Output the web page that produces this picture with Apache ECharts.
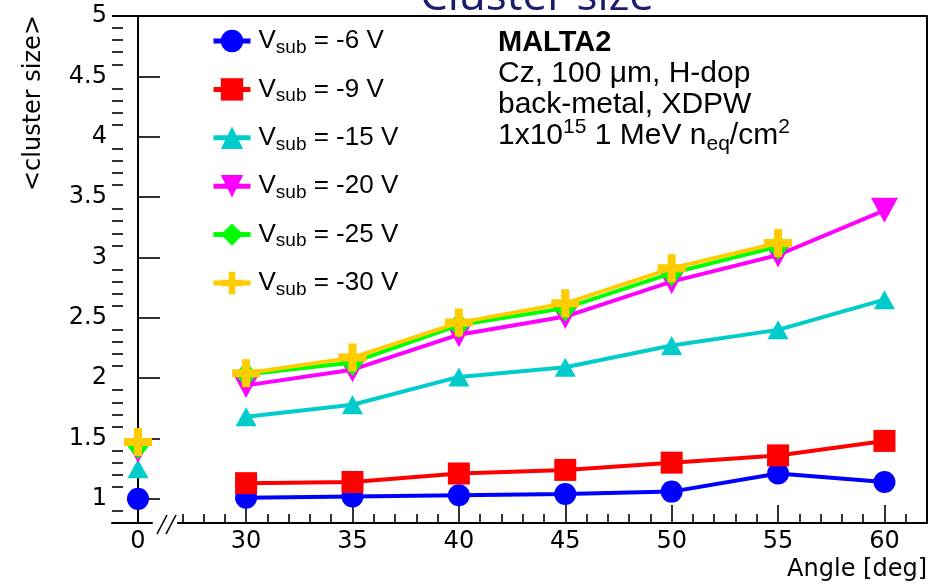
<!DOCTYPE html>
<html>
<head>
<meta charset="utf-8">
<script src="https://cdn.jsdelivr.net/npm/echarts@6/dist/echarts.min.js"></script>
<style>
  html, body { margin: 0; padding: 0; background: #ffffff; }
  #chart { width: 936px; height: 586px; }
</style>
</head>
<body>
<div id="chart"></div>
<script>
// Incidence angles (deg) of the tilted scans
const angles = [30, 35, 40, 45, 50, 55, 60];

// Substrate voltages
const voltages = ['-6', '-9', '-15', '-20', '-25', '-30'];

// Mean cluster size per angle, one array per substrate voltage
const size6  = [1.01, 1.02, 1.03, 1.04, 1.06, 1.21, 1.14];
const size9  = [1.13, 1.14, 1.21, 1.24, 1.30, 1.36, 1.48];
const size15 = [1.68, 1.78, 2.01, 2.09, 2.27, 2.40, 2.65];
const size20 = [1.94, 2.07, 2.36, 2.51, 2.80, 3.02, 3.39];
const size25 = [2.03, 2.13, 2.44, 2.58, 2.87, 3.09, null];
const size30 = [2.04, 2.17, 2.46, 2.62, 2.91, 3.12, null];

// Mean cluster size at normal incidence (0 deg); null = not measured
const sizeAtZero = [1.00, null, 1.25, 1.40, 1.44, 1.47];

// Axis tick labels
const yTickLabels = [1, 1.5, 2, 2.5, 3, 3.5, 4, 4.5, 5];
const xTickLabels = [30, 35, 40, 45, 50, 55, 60];

const sizes = [size6, size9, size15, size20, size25, size30];
const colors = ['#0000ff', '#ff0000', '#00cccc', '#ff00ff', '#00ff00', '#ffcc00'];
const symbols = [
  'circle',
  'rect',
  'triangle',
  'path://M0,0 L20,0 L10,18 Z',
  'diamond',
  'path://M10,0 L18,0 L18,10 L28,10 L28,18 L18,18 L18,28 L10,28 L10,18 L0,18 L0,10 L10,10 Z'
];
const symbolSizes = [22, 22, [21, 19], [27, 25], [22, 27], 28];

// minor tick positions (every 0.1 on y, every 1 deg on x)
const yMinor = [];
for (let k = 9; k <= 49; k++) { if (k % 5 !== 0) yMinor.push(k / 10); }
const xMinor = [];
for (let k = 27; k <= 62; k++) { if (k % 5 !== 0) xMinor.push(k); }

const AXIS_FONT = 'DejaVu Sans';
const TEXT_FONT = 'Liberation Sans';
const axisLine = { show: true, lineStyle: { color: '#000', width: 2 } };
const tickStyle = { color: '#000', width: 1.6 };

const names = voltages.map(v => 'Vsub = ' + v + ' V');

const series = [];
voltages.forEach((v, i) => {
  const common = {
    type: 'line',
    name: names[i],
    symbol: symbols[i],
    symbolSize: symbolSizes[i],
    showAllSymbol: true,
    lineStyle: { color: colors[i], width: 4 },
    itemStyle: { color: colors[i], borderWidth: 0 },
    emphasis: { disabled: true },
    animation: false,
    z: 2 + i
  };
  const pts = [];
  angles.forEach((a, j) => { if (sizes[i][j] != null) pts.push([a, sizes[i][j]]); });
  series.push(Object.assign({}, common, { xAxisIndex: 1, yAxisIndex: 2, data: pts }));
  if (sizeAtZero[i] != null) {
    series.push(Object.assign({}, common, { xAxisIndex: 0, yAxisIndex: 0, data: [[0, sizeAtZero[i]]] }));
  }
});

const chart = echarts.init(document.getElementById('chart'), null, { renderer: 'canvas' });

chart.setOption({
  backgroundColor: '#ffffff',
  animation: false,
  grid: [
    { left: 112, top: 16, width: 40, bottom: 63, containLabel: false },
    { left: 178, top: 16, right: 9, bottom: 63, containLabel: false }
  ],
  xAxis: [
    {
      gridIndex: 0, type: 'value', min: -26, max: 14, position: 'bottom',
      axisLine: axisLine,
      axisTick: { show: true, inside: true, length: 18, customValues: [0], lineStyle: tickStyle },
      axisLabel: { customValues: [0], margin: 7, color: '#000', fontFamily: AXIS_FONT, fontSize: 24 },
      splitLine: { show: false }
    },
    {
      gridIndex: 1, type: 'value', min: 26.8, max: 62, position: 'bottom',
      axisLine: axisLine,
      axisTick: { show: true, inside: true, length: 18, customValues: xTickLabels, lineStyle: tickStyle },
      axisLabel: { customValues: xTickLabels, margin: 7, color: '#000', fontFamily: AXIS_FONT, fontSize: 24 },
      splitLine: { show: false }
    },
    {
      gridIndex: 1, type: 'value', min: 26.8, max: 62, position: 'bottom', offset: 0,
      axisLine: { show: false },
      axisTick: { show: true, inside: true, length: 9, customValues: xMinor, lineStyle: tickStyle },
      axisLabel: { show: false },
      splitLine: { show: false }
    }
  ],
  yAxis: [
    {
      gridIndex: 0, type: 'value', min: 0.8, max: 5, position: 'left',
      axisLine: axisLine,
      axisTick: { show: true, inside: true, length: 22, customValues: yTickLabels, lineStyle: tickStyle },
      axisLabel: { customValues: yTickLabels, margin: 5, color: '#000', fontFamily: AXIS_FONT, fontSize: 24 },
      splitLine: { show: false }
    },
    {
      gridIndex: 0, type: 'value', min: 0.8, max: 5, position: 'left', offset: 0,
      axisLine: { show: false },
      axisTick: { show: true, inside: true, length: 11, customValues: yMinor, lineStyle: tickStyle },
      axisLabel: { show: false },
      splitLine: { show: false }
    },
    {
      gridIndex: 1, type: 'value', min: 0.8, max: 5, position: 'right',
      axisLine: axisLine,
      axisTick: { show: false },
      axisLabel: { show: false },
      splitLine: { show: false }
    }
  ],
  legend: {
    orient: 'vertical',
    left: 211,
    top: 28,
    padding: 0,
    itemWidth: 37,
    itemHeight: 28,
    itemGap: 19.4,
    selectedMode: false,
    data: names,
    lineStyle: { width: 5 },
    formatter: function (name) {
      const v = voltages[names.indexOf(name)];
      return '{v|V}{s|sub}{t| = ' + v + ' V}';
    },
    textStyle: {
      color: '#000',
      padding: [0, 0, 0, 3],
      rich: {
        v: { fontFamily: TEXT_FONT, fontSize: 26, lineHeight: 32, color: '#000' },
        s: { fontFamily: TEXT_FONT, fontSize: 19, lineHeight: 10, verticalAlign: 'bottom', color: '#000' },
        t: { fontFamily: TEXT_FONT, fontSize: 26, lineHeight: 32, color: '#000' }
      }
    }
  },
  graphic: [
    // frame: top edge
    { type: 'line', shape: { x1: 112, y1: 16, x2: 927, y2: 16 }, style: { stroke: '#000', lineWidth: 2 }, silent: true },
    // axis break marks
    { type: 'line', shape: { x1: 157, y1: 534, x2: 167, y2: 515 }, style: { stroke: '#000', lineWidth: 1.6 }, silent: true },
    { type: 'line', shape: { x1: 166, y1: 534, x2: 176, y2: 515 }, style: { stroke: '#000', lineWidth: 1.6 }, silent: true },
    // page title
    { type: 'text', x: 537, y: -3, silent: true,
      style: { text: 'Cluster size', fill: '#1b1b70', font: '44px "Open Sans"', align: 'center', verticalAlign: 'middle' } },
    // axis titles
    { type: 'text', x: 927, y: 570, silent: true,
      style: { text: 'Angle [deg]', fill: '#000', font: '24px "DejaVu Sans"', align: 'right', verticalAlign: 'middle' } },
    { type: 'text', x: 34, y: 15, rotation: Math.PI / 2, silent: true,
      style: { text: '<cluster size>', fill: '#000', font: '24px "DejaVu Sans"', align: 'right', verticalAlign: 'middle' } },
    // sample description
    { type: 'text', x: 498, y: 43, silent: true,
      style: { text: 'MALTA2', fill: '#000', font: 'bold 29px "Liberation Sans"', align: 'left', verticalAlign: 'middle' } },
    { type: 'text', x: 498, y: 74, silent: true,
      style: { text: 'Cz, 100 \u03bcm, H-dop', fill: '#000', font: '30px "Liberation Sans"', align: 'left', verticalAlign: 'middle' } },
    { type: 'text', x: 498, y: 104.5, silent: true,
      style: { text: 'back-metal, XDPW', fill: '#000', font: '30px "Liberation Sans"', align: 'left', verticalAlign: 'middle' } },
    { type: 'text', x: 498, y: 136, silent: true,
      style: {
        text: '{a|1x10}{sup|15}{a| 1 MeV n}{sub|eq}{a|/cm}{sup|2}',
        align: 'left', verticalAlign: 'middle',
        rich: {
          a: { fontFamily: TEXT_FONT, fontSize: 30, lineHeight: 38, fill: '#000' },
          sup: { fontFamily: TEXT_FONT, fontSize: 21, lineHeight: 8, verticalAlign: 'top', fill: '#000' },
          sub: { fontFamily: TEXT_FONT, fontSize: 21, lineHeight: 20, verticalAlign: 'bottom', fill: '#000' }
        }
      } }
  ],
  series: series
});
</script>
</body>
</html>
